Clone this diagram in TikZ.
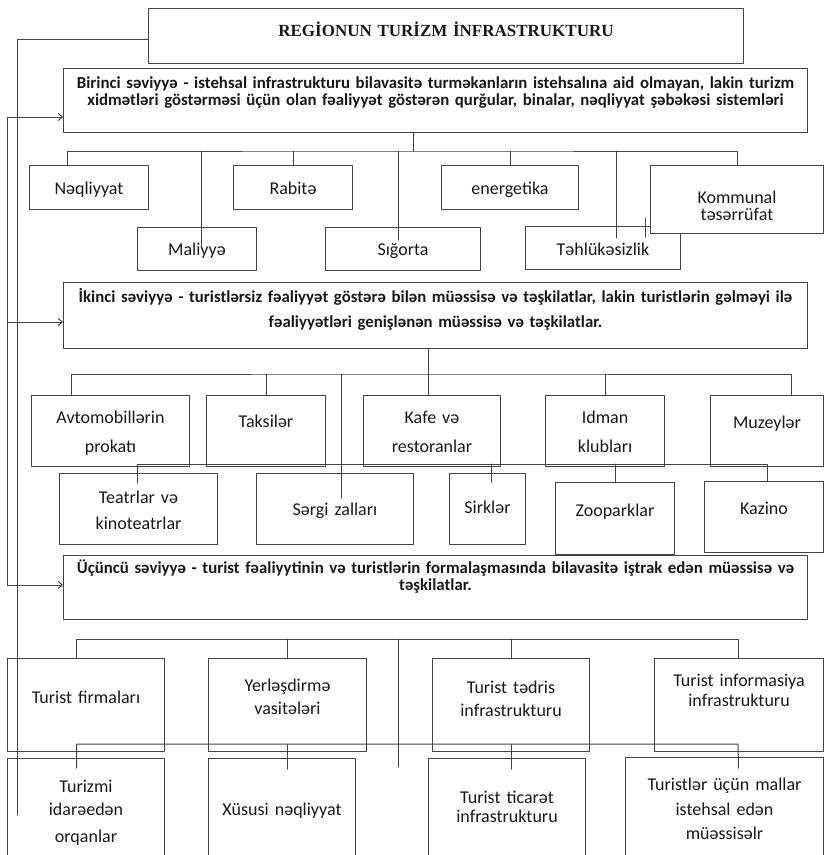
\documentclass[tikz,border=0pt]{standalone}
\usepackage{fontspec}
\setmainfont{Carlito}
\newfontfamily\titlefont{Liberation Serif}
\usetikzlibrary{arrows.meta}
\definecolor{linegray}{RGB}{68,68,68}
\definecolor{inkgray}{RGB}{25,25,25}
\tikzset{
  box/.style={draw=linegray, fill=white, line width=1pt, inner sep=0pt, anchor=north west,
    align=center, text=inkgray, font=\fontsize{18}{23}\selectfont},
  levelbox/.style={box, font=\bfseries\fontsize{16.8}{17}\selectfont},
  titlebox/.style={box, font=\titlefont\bfseries\fontsize{17}{20}\selectfont},
  link/.style={draw=linegray, line width=1pt},
}
\begin{document}
\begin{tikzpicture}[x=1pt,y=-1pt,line cap=round,line join=round,>={Straight Barb[length=4pt,width=7pt]}]
\useasboundingbox (0,0) rectangle (824,855);
\clip (0,0) rectangle (824,855);
% headers
\node[titlebox, text width=595pt, text height=28pt, text depth=27pt] (title) at (148,8) {REGİONUN TURİZM İNFRASTRUKTURU};
\node[levelbox, text width=744pt, text height=19.5pt, text depth=44.5pt] (levelone) at (63,68)
  {Birinci səviyyə - istehsal infrastrukturu bilavasitə turməkanların istehsalına aid olmayan, lakin turizm\\
   xidmətləri göstərməsi üçün olan fəaliyyət göstərən qurğular, binalar, nəqliyyat şəbəkəsi sistemləri};
\node[levelbox, text width=744pt, text height=19.5pt, text depth=46.5pt] (leveltwo) at (63,282)
  {İkinci səviyyə - turistlərsiz fəaliyyət göstərə bilən müəssisə və təşkilatlar, lakin turistlərin gəlməyi ilə\\[8pt]
   fəaliyyətləri genişlənən müəssisə və təşkilatlar.};
\node[levelbox, text width=744pt, text height=17.5pt, text depth=46.5pt] (levelthree) at (63,555)
  {Üçüncü səviyyə - turist fəaliyytinin və turistlərin formalaşmasında bilavasitə iştrak edən müəssisə və\\
   təşkilatlar.};
% first level boxes
\node[box, text width=119pt, text height=29pt, text depth=15pt] (neql) at (29,165) {Nəqliyyat};
\node[box, text width=119pt, text height=28pt, text depth=15pt] (maliyye) at (137,227) {Maliyyə};
\node[box, text width=119pt, text height=29pt, text depth=15pt] (rabite) at (233,165) {Rabitə};
\node[box, text width=155pt, text height=28pt, text depth=15pt] (sigorta) at (325,227) {Sığorta};
\node[box, text width=137pt, text height=29pt, text depth=15pt] (energetika) at (441,165) {energetika};
\node[box, text width=155pt, text height=29pt, text depth=14pt] (tehluke) at (525,226) {Təhlükəsizlik};
\node[box, text width=173pt, text height=38pt, text depth=30pt] (kommunal) at (650,165) {Kommunal\\[-6pt] təsərrüfat};
% second level boxes
\node[box, text width=158pt, text height=28pt, text depth=43pt] (avto) at (31,395) {Avtomobillərin\\[6pt] prokatı};
\node[box, text width=119pt, text height=32pt, text depth=39pt] (taksi) at (206,395) {Taksilər};
\node[box, text width=137pt, text height=28pt, text depth=43pt] (kafe) at (363,395) {Kafe və\\[6pt] restoranlar};
\node[box, text width=119pt, text height=28pt, text depth=43pt] (idman) at (545,395) {Idman\\[6pt] klubları};
\node[box, text width=113pt, text height=33pt, text depth=38pt] (muzey) at (710,395) {Muzeylər};
\node[box, text width=158pt, text height=30pt, text depth=41pt] (teatr) at (59,473) {Teatrlar və\\[3pt] kinoteatrlar};
\node[box, text width=157pt, text height=42pt, text depth=29pt] (sergi) at (256,473) {Sərgi zalları};
\node[box, text width=76pt, text height=40pt, text depth=31pt] (sirk) at (449,473) {Sirklər};
\node[box, text width=119pt, text height=34pt, text depth=38pt] (zoo) at (555,482) {Zooparklar};
\node[box, text width=119pt, text height=33pt, text depth=38pt] (kazino) at (704,481) {Kazino};
% third level boxes
\node[box, text width=157pt, text height=45pt, text depth=48pt] (firma) at (7,658) {Turist firmaları};
\node[box, text width=158pt, text height=33pt, text depth=60pt] (yerles) at (208,658) {Yerləşdirmə\\ vasitələri};
\node[box, text width=157pt, text height=35pt, text depth=58pt] (tedris) at (432,658) {Turist tədris\\ infrastrukturu};
\node[box, text width=169pt, text height=28pt, text depth=65pt] (info) at (654,658) {Turist informasiya\\[-3pt] infrastrukturu};
\node[box, text width=157pt, text height=34pt, text depth=68pt] (idare) at (7,758) {Turizmi\\ idarəedən\\[4pt] orqanlar};
\node[box, text width=147pt, text height=57pt, text depth=45pt] (xususi) at (208,758) {Xüsusi nəqliyyat};
\node[box, text width=157pt, text height=45pt, text depth=57pt] (ticaret) at (428,758) {Turist ticarət\\[-4pt] infrastrukturu};
\node[box, text width=198pt, text height=33pt, text depth=70pt] (mallar) at (625,757) {Turistlər üçün mallar\\[2pt] istehsal edən\\[1pt] müəssisəlr};
% title to the long left line
\coordinate (outerend) at (17,815);
\draw[link] ([yshift=-3.5pt]title.west) -| (outerend);
% arrows to the three levels
\coordinate (sa) at (7,117);
\coordinate (sb) at (7,322);
\coordinate (sc) at (7,585);
\draw[link,<->] (sa -| levelone.west) -- (sa) -- (sc) -- (sc -| levelthree.west);
\draw[link,->] (sb) -- (sb -| leveltwo.west);
% first level
\coordinate (busone) at (413,151);
\draw[link] (levelone.south -| busone) -- (busone);
\draw[link] ([xshift=-21.5pt]neql.north) |- (busone) -| (kommunal.north);
\draw[link] (rabite.north) -- (rabite.north |- busone);
\draw[link] (energetika.north) -- (energetika.north |- busone);
\draw[link] ([xshift=4.5pt,yshift=-21pt]maliyye.north) -- +(0,-97);
\draw[link] ([xshift=-4.5pt,yshift=-13pt]sigorta.north) -- +(0,-89);
\draw[link] ([xshift=13.5pt,yshift=-12pt]tehluke.north) -- +(0,-87);
\draw[link] ([xshift=42.5pt,yshift=-11pt]tehluke.north) -- +(0,-19);
% second level
\coordinate (bustwo) at (428,374);
\draw[link] (leveltwo.south -| bustwo) -- (bustwo |- kafe.north);
\draw[link] ([xshift=-39pt]avto.north) |- (bustwo) -| ([xshift=24.5pt]muzey.north);
\draw[link] (taksi.north) -- (taksi.north |- bustwo);
\draw[link] (idman.north) -- (idman.north |- bustwo);
\draw[link] ([xshift=6.5pt,yshift=-25pt]sergi.north) -- +(0,-124);
\coordinate (busthree) at (767,464);
\draw[link] ([xshift=-1pt,yshift=-10pt]teatr.north) |- (busthree) -- (busthree |- kazino.north);
\draw[link] ([xshift=4pt,yshift=-9pt]sirk.north) -- +(0,-18);
\draw[link] (zoo.north) -- (zoo.north |- busthree);
% third level
\coordinate (busfour) at (738,639);
\coordinate (stub) at (398,767);
\draw[link] ([xshift=-9.5pt]firma.north) |- (busfour) -- (busfour |- info.north);
\draw[link] (yerles.north) -- (yerles.north |- busfour);
\draw[link] (tedris.north) -- (tedris.north |- busfour);
\draw[link] (stub) -- (stub |- busfour);
\coordinate (busfive) at (738,744);
\draw[link] ([xshift=-9.5pt,yshift=-10pt]idare.north) |- (busfive) -- ([xshift=14pt,yshift=-11pt]mallar.north);
\draw[link] ([xshift=5.5pt,yshift=-11pt]xususi.north) -- +(0,-25);
\draw[link] ([xshift=4.5pt,yshift=-11pt]ticaret.north) -- +(0,-25);
\end{tikzpicture}
\end{document}
